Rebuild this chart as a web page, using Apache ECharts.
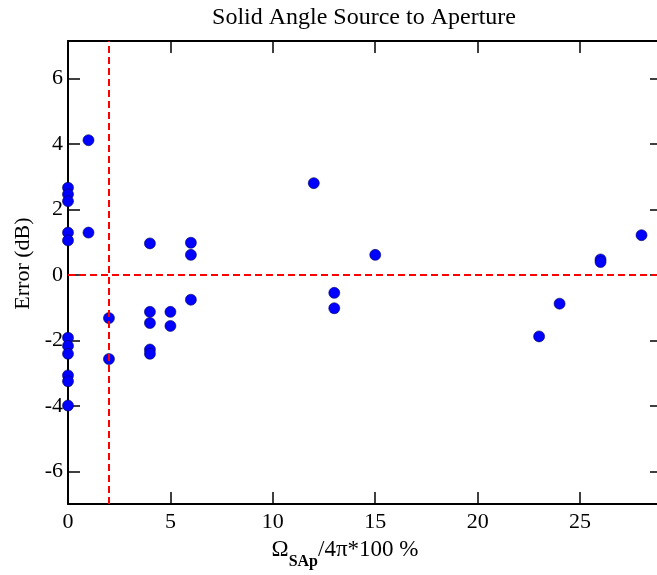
<!DOCTYPE html>
<html><head><meta charset="utf-8">
<script src="https://cdn.jsdelivr.net/npm/echarts@6/dist/echarts.min.js"></script>
<style>html,body{margin:0;padding:0;background:#fff;overflow:hidden}#c{width:664px;height:575px}</style>
</head><body><div id="c"></div>
<script>
const titleText = 'Solid Angle Source to Aperture';
const xValues = [0,0,0,0,0,0,0,0,0,0,0, 1,1, 2,2, 4,4,4,4,4, 5,5, 6,6,6, 12, 13,13, 15, 23, 24, 26,26, 28];
const yValues = [2.66,2.46,2.25,1.29,1.05,-1.92,-2.17,-2.41,-3.07,-3.25,-3.99, 4.11,1.29, -1.32,-2.57, 0.96,-1.13,-1.47,-2.28,-2.41, -1.13,-1.56, 0.98,0.61,-0.76, 2.80, -0.55,-1.02, 0.61, -1.88, -0.88, 0.47,0.39, 1.21];
const xTicks = [0,5,10,15,20,25];
const yTicks = [-6,-4,-2,0,2,4,6];
const xRange = [0, 29];
const yRange = [-7, 7.14];
const refX = 2;
const refY = 0;

const font = 'Liberation Serif';
const points = xValues.map((x, i) => [x, yValues[i]]);
const tickStyle = {inside: true, length: 12, lineStyle: {color: '#000', width: 1.5}};
const axLine = {onZero: false, lineStyle: {color: '#000', width: 2}};

const chart = echarts.init(document.getElementById('c'), null, {renderer: 'canvas'});
chart.setOption({
  animation: false,
  backgroundColor: '#fff',
  title: {text: titleText, left: 359, top: 1, textAlign: 'center',
    textStyle: {fontFamily: font, fontSize: 24, fontWeight: 'normal', color: '#000'}},
  grid: {left: 68, top: 41, right: 2, bottom: 68, containLabel: false},
  xAxis: [{
    type: 'value', min: xRange[0], max: xRange[1], position: 'bottom',
    axisLine: axLine,
    axisTick: Object.assign({customValues: xTicks}, tickStyle),
    axisLabel: {customValues: xTicks, fontFamily: font, fontSize: 22, color: '#000', margin: 7},
    splitLine: {show: false},
    name: '{a|Ω}{s|SAp}{a|/4π*100 %}', nameLocation: 'middle', nameGap: 30,
    nameTextStyle: {
      padding: [0, 40, 0, 0],
      rich: {
        a: {fontFamily: font, fontSize: 23, color: '#000', lineHeight: 24, verticalAlign: 'top'},
        s: {fontFamily: font, fontSize: 16, fontWeight: 'bold', color: '#000', lineHeight: 32, verticalAlign: 'bottom'}
      }
    }
  }, {
    type: 'value', min: xRange[0], max: xRange[1], position: 'top',
    axisLine: axLine,
    axisTick: Object.assign({customValues: xTicks}, tickStyle),
    axisLabel: {show: false}, splitLine: {show: false}
  }],
  yAxis: [{
    type: 'value', min: yRange[0], max: yRange[1], position: 'left',
    axisLine: axLine,
    axisTick: Object.assign({customValues: yTicks}, tickStyle),
    axisLabel: {customValues: yTicks, fontFamily: font, fontSize: 22, color: '#000', margin: 5},
    splitLine: {show: false},
    name: 'Error (dB)', nameLocation: 'middle', nameGap: 25,
    nameTextStyle: {fontFamily: font, fontSize: 22, color: '#000', padding: [0, 0, 0, 18]}
  }, {
    type: 'value', min: yRange[0], max: yRange[1], position: 'right',
    axisLine: axLine,
    axisTick: Object.assign({customValues: yTicks}, tickStyle),
    axisLabel: {show: false}, splitLine: {show: false}
  }],
  series: [{
    type: 'scatter', xAxisIndex: 0, yAxisIndex: 0,
    data: points, symbol: 'circle', symbolSize: 11,
    itemStyle: {color: '#0000ff', borderColor: '#00005a', borderWidth: 0.6, opacity: 1},
    z: 3,
    markLine: {
      silent: true, symbol: 'none', animation: false,
      label: {show: false},
      lineStyle: {color: '#ff0000', width: 2, type: [7, 4]},
      data: [{xAxis: refX}, {yAxis: refY}]
    }
  }]
});
</script></body></html>
